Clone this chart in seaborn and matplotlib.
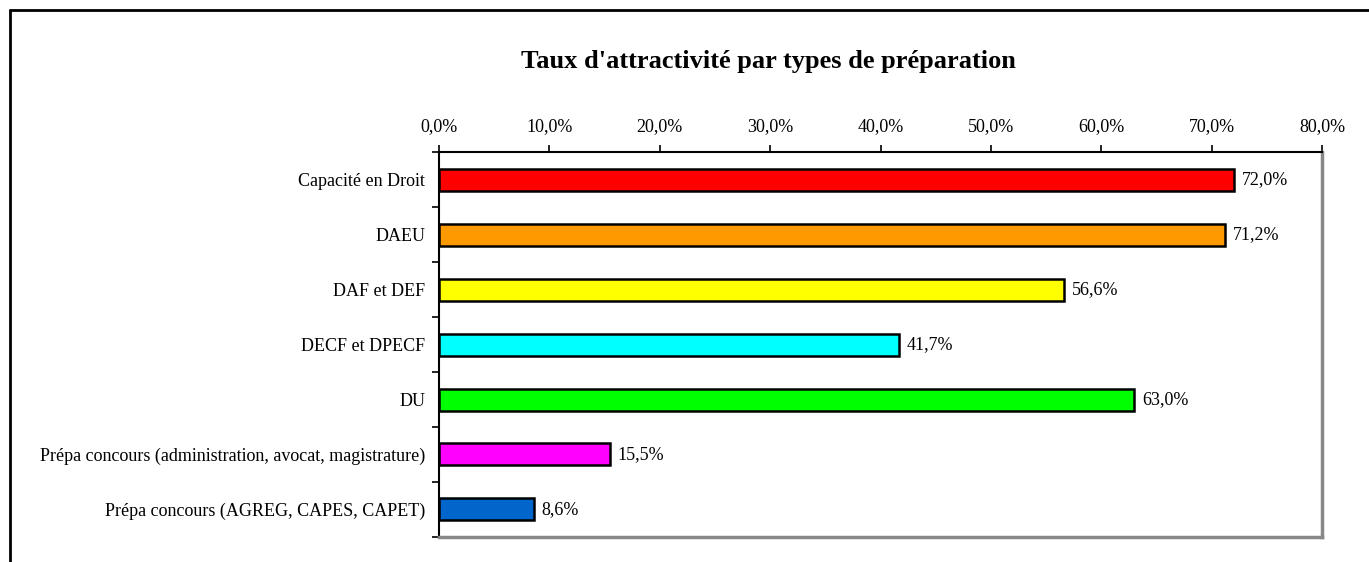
import matplotlib
matplotlib.use("Agg")
import matplotlib.pyplot as plt
from matplotlib.lines import Line2D
from matplotlib.ticker import FixedLocator
import pandas as pd
import seaborn as sns

# Data
categories = [
    "Capacité en Droit",
    "DAEU",
    "DAF et DEF",
    "DECF et DPECF",
    "DU",
    "Prépa concours (administration, avocat, magistrature)",
    "Prépa concours (AGREG, CAPES, CAPET)",
]
rates = [72.0, 71.2, 56.6, 41.7, 63.0, 15.5, 8.6]
colors = ["#FF0000", "#FF9900", "#FFFF00", "#00FFFF", "#00FF00", "#FF00FF", "#0066CC"]
x_ticks = [0, 10, 20, 30, 40, 50, 60, 70, 80]

df = pd.DataFrame({"type": categories, "taux": rates})

sns.set_theme(style="white")
plt.rcParams["font.family"] = ["Liberation Serif", "DejaVu Serif"]
plt.rcParams["text.color"] = "black"
plt.rcParams["xtick.color"] = "black"
plt.rcParams["ytick.color"] = "black"

fig = plt.figure(figsize=(13.69, 5.62), dpi=100)
ax = fig.add_axes([0.3207, 0.0445, 0.645, 0.685])

sns.barplot(
    data=df, x="taux", y="type", hue="type", palette=colors,
    order=categories, hue_order=categories, legend=False,
    width=0.4, edgecolor="black", linewidth=1.8, saturation=1, ax=ax,
)

for i, v in enumerate(rates):
    ax.text(v + 0.7, i, f"{v:.1f}%".replace(".", ","), va="center", ha="left",
            fontsize=13, color="black")

ax.set_xlim(0, 80)
ax.set_ylim(len(categories) - 0.5, -0.5)
ax.xaxis.tick_top()
ax.set_xticks(x_ticks)
ax.set_xticklabels([f"{t:.1f}%".replace(".", ",") for t in x_ticks], fontsize=13)
ax.tick_params(axis="x", which="major", direction="out", length=5, width=1.2,
               color="black", pad=7, top=True, bottom=False)
ax.set_yticks(range(len(categories)))
ax.set_yticklabels(categories, fontsize=13)
ax.yaxis.set_minor_locator(FixedLocator([i - 0.5 for i in range(len(categories) + 1)]))
ax.tick_params(axis="y", which="major", length=0, pad=10)
ax.tick_params(axis="y", which="minor", direction="out", length=5, width=1.2,
               color="black", left=True)
ax.set_xlabel("")
ax.set_ylabel("")

ax.spines["top"].set_color("black")
ax.spines["top"].set_linewidth(1.5)
ax.spines["left"].set_color("black")
ax.spines["left"].set_linewidth(1.5)
ax.spines["right"].set_color("#888888")
ax.spines["right"].set_linewidth(2.5)
ax.spines["bottom"].set_color("#888888")
ax.spines["bottom"].set_linewidth(2.5)

fig.text(0.561, 0.89, "Taux d'attractivité par types de préparation",
         ha="center", va="center", fontsize=19, fontweight="bold")

# outer chart frame (only top and left visible in the reference)
fig.add_artist(Line2D([10 / 1369, 10 / 1369], [0, 1 - 10 / 562], color="black",
                      linewidth=2, transform=fig.transFigure))
fig.add_artist(Line2D([10 / 1369, 1], [1 - 10 / 562, 1 - 10 / 562], color="black",
                      linewidth=2, transform=fig.transFigure))

fig.savefig("out.png", dpi=100)
plt.close(fig)
